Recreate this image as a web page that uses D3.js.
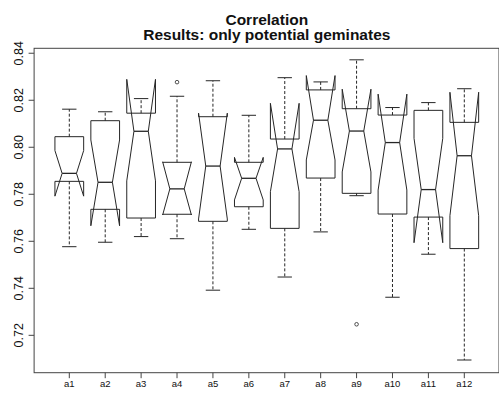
<!DOCTYPE html>
<html>
<head>
<meta charset="utf-8">
<script src="https://cdn.jsdelivr.net/npm/d3@7"></script>
<style>
  body { margin: 0; background: #fff; }
  svg { display: block; font-family: "Liberation Sans", Arial, sans-serif; }
</style>
</head>
<body>
<svg id="chart" width="499" height="396"></svg>
<script>
// box statistics
const categories = ["a1", "a2", "a3", "a4", "a5", "a6", "a7", "a8", "a9", "a10", "a11", "a12"];
const whiskerLow  = [0.7577, 0.7596, 0.7620, 0.7611, 0.7392, 0.7651, 0.7448, 0.7640, 0.7794, 0.7362, 0.7545, 0.7095];
const q1          = [0.7855, 0.7736, 0.7699, 0.7715, 0.7685, 0.7747, 0.7655, 0.7869, 0.7804, 0.7716, 0.7703, 0.7569];
const median      = [0.7889, 0.7851, 0.8068, 0.7823, 0.7920, 0.7868, 0.7993, 0.8115, 0.8069, 0.8020, 0.7820, 0.7964];
const q3          = [0.8045, 0.8113, 0.8145, 0.7936, 0.8130, 0.7936, 0.8035, 0.8244, 0.8164, 0.8137, 0.8157, 0.8106];
const whiskerHigh = [0.8162, 0.8151, 0.8207, 0.8217, 0.8283, 0.8136, 0.8296, 0.8278, 0.8372, 0.8169, 0.8190, 0.8249];
const notchLow    = [0.7792, 0.7666, 0.7857, 0.7712, 0.7695, 0.7776, 0.7811, 0.7946, 0.7895, 0.7818, 0.7594, 0.7709];
const notchHigh   = [0.7986, 0.8031, 0.8289, 0.7938, 0.8145, 0.7957, 0.8187, 0.8305, 0.8247, 0.8226, 0.8038, 0.8234];
const outlierCat  = ["a4", "a9"];
const outlierVal  = [0.8277, 0.7247];
const yTicks = [0.72, 0.74, 0.76, 0.78, 0.80, 0.82, 0.84];

const svg = d3.select("#chart");
const lineCol = "#262626";

const x = d3.scalePoint().domain(categories).range([69.3, 464.3]);
const y = d3.scaleLinear().domain([0.7041, 0.8421]).range([372.7, 48.3]);
const step = x.step();
const wid = step * 0.4;  // half box width

// frame
const left = x(categories[0]) - step * 0.98;
const right = x(categories[categories.length - 1]) + step * 0.98;
svg.append("rect")
  .attr("x", left).attr("y", y(0.8421))
  .attr("width", right - left - 0.5).attr("height", y(0.7041) - y(0.8421))
  .attr("fill", "none").attr("stroke", "#444").attr("stroke-width", 1);

// title
const title = svg.append("text")
  .attr("text-anchor", "middle")
  .attr("font-weight", "bold")
  .attr("font-size", "15.5px")
  .attr("fill", "#111");
title.append("tspan").attr("x", (left + right) / 2).attr("y", 24.5).text("Correlation");
title.append("tspan").attr("x", (left + right) / 2).attr("y", 40).text("Results: only potential geminates");

// y axis
const yAxis = svg.append("g");
yAxis.selectAll("line").data(yTicks).enter().append("line")
  .attr("x1", left - 5.5).attr("x2", left)
  .attr("y1", d => y(d)).attr("y2", d => y(d))
  .attr("stroke", "#444");
yAxis.selectAll("text").data(yTicks).enter().append("text")
  .attr("transform", d => `translate(23, ${y(d)}) rotate(-90)`)
  .attr("text-anchor", "middle")
  .attr("font-size", "12.5px")
  .attr("fill", "#111")
  .text(d => d3.format(".2f")(d));

// x axis
const xAxis = svg.append("g");
xAxis.selectAll("line").data(categories).enter().append("line")
  .attr("x1", d => x(d)).attr("x2", d => x(d))
  .attr("y1", y(0.7041)).attr("y2", y(0.7041) + 5.5)
  .attr("stroke", "#444");
xAxis.selectAll("text").data(categories).enter().append("text")
  .attr("x", d => x(d)).attr("y", 387)
  .attr("text-anchor", "middle")
  .attr("font-size", "9.5px")
  .attr("fill", "#111")
  .text(d => d);

// boxes
const boxes = categories.map((c, i) => ({
  cat: c, lo: whiskerLow[i], q1: q1[i], med: median[i], q3: q3[i], hi: whiskerHigh[i],
  cLo: notchLow[i], cHi: notchHigh[i]
}));

const g = svg.selectAll(".box").data(boxes).enter().append("g").attr("class", "box");

// whiskers (dashed)
g.append("line")
  .attr("x1", d => x(d.cat)).attr("x2", d => x(d.cat))
  .attr("y1", d => y(d.q3)).attr("y2", d => y(d.hi))
  .attr("stroke", lineCol).attr("stroke-dasharray", "3,2");
g.append("line")
  .attr("x1", d => x(d.cat)).attr("x2", d => x(d.cat))
  .attr("y1", d => y(d.q1)).attr("y2", d => y(d.lo))
  .attr("stroke", lineCol).attr("stroke-dasharray", "3,2");

// staples
g.append("line")
  .attr("x1", d => x(d.cat) - wid / 2).attr("x2", d => x(d.cat) + wid / 2)
  .attr("y1", d => y(d.hi)).attr("y2", d => y(d.hi))
  .attr("stroke", lineCol);
g.append("line")
  .attr("x1", d => x(d.cat) - wid / 2).attr("x2", d => x(d.cat) + wid / 2)
  .attr("y1", d => y(d.lo)).attr("y2", d => y(d.lo))
  .attr("stroke", lineCol);

// notched box outline, drawn the way R's bxp does it
g.append("path")
  .attr("d", d => {
    const cx = x(d.cat);
    const xs = [-1, 1, 1, 0.5, 1, 1, -1, -1, -0.5, -1].map(k => cx + wid * k);
    const ys = [d.q1, d.q1, d.cLo, d.med, d.cHi, d.q3, d.q3, d.cHi, d.med, d.cLo].map(v => y(v));
    return d3.line()(xs.map((xx, k) => [xx, ys[k]])) + "Z";
  })
  .attr("fill", "none").attr("stroke", lineCol);

// median
g.append("line")
  .attr("x1", d => x(d.cat) - wid / 2).attr("x2", d => x(d.cat) + wid / 2)
  .attr("y1", d => y(d.med)).attr("y2", d => y(d.med))
  .attr("stroke", lineCol).attr("stroke-width", 1.3);

// outliers
svg.selectAll(".outlier").data(outlierCat).enter().append("circle")
  .attr("cx", d => x(d)).attr("cy", (d, i) => y(outlierVal[i]))
  .attr("r", 1.8)
  .attr("fill", "none").attr("stroke", lineCol).attr("stroke-width", 0.8);
</script>
</body>
</html>
